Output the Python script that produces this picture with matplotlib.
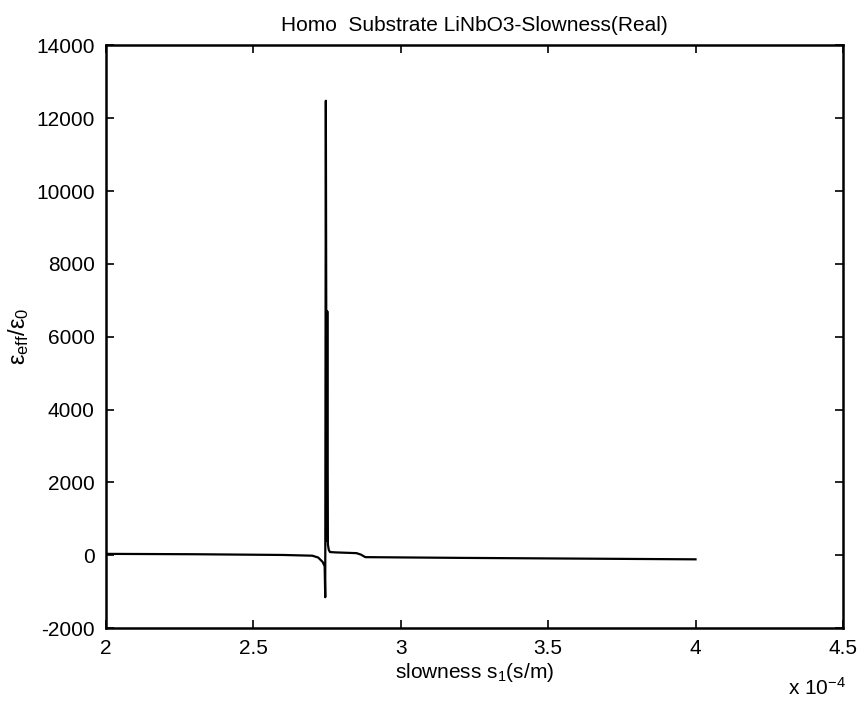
import matplotlib
matplotlib.use("Agg")
import matplotlib.pyplot as plt

plt.rcParams['font.family'] = ['Liberation Sans Narrow', 'Liberation Sans', 'DejaVu Sans']
plt.rcParams['mathtext.fontset'] = 'custom'
plt.rcParams['mathtext.rm'] = 'Liberation Sans'
plt.rcParams['mathtext.it'] = 'Liberation Sans'
plt.rcParams['axes.unicode_minus'] = False

# slowness in units of 1e-4 s/m, effective permittivity ratio (real part)
slowness = [2.0, 2.3, 2.6, 2.70, 2.72, 2.735, 2.742, 2.744, 2.746, 2.749, 2.751,
            2.753, 2.756, 2.760, 2.780, 2.850, 2.865, 2.880, 3.2, 3.6, 4.0]
eps_real = [40, 30, 10, -10, -60, -180, -300, -1150, 12480, 400, 6700,
            300, 150, 90, 80, 60, 20, -50, -70, -90, -110]

xticks = [2, 2.5, 3, 3.5, 4, 4.5]
xticklabels = ["2", "2.5", "3", "3.5", "4", "4.5"]
yticks = [-2000, 0, 2000, 4000, 6000, 8000, 10000, 12000, 14000]

fig = plt.figure(figsize=(8.61, 7.09), dpi=100)
ax = fig.add_axes([0.123, 0.114, 0.856, 0.822])
ax.plot(slowness, eps_real, color="black", linewidth=1.6)

ax.set_xlim(2, 4.5)
ax.set_ylim(-2000, 14000)
ax.set_xticks(xticks)
ax.set_xticklabels(xticklabels)
ax.set_yticks(yticks)
ax.tick_params(direction="in", top=True, right=True, labelsize=15, length=6, width=1.2, pad=8)
for s in ax.spines.values():
    s.set_linewidth(1.8)

ax.set_title("Homo  Substrate LiNbO3-Slowness(Real)", fontsize=15, pad=10)
ax.set_xlabel(r"slowness s$_1$(s/m)", fontsize=15, labelpad=2)
ax.set_ylabel(r"$\epsilon_{eff}/\epsilon_0$", fontsize=17, labelpad=4)
fig.text(0.915, 0.02, r"x 10$^{-4}$", fontsize=15)

fig.savefig("out.png", dpi=100)
